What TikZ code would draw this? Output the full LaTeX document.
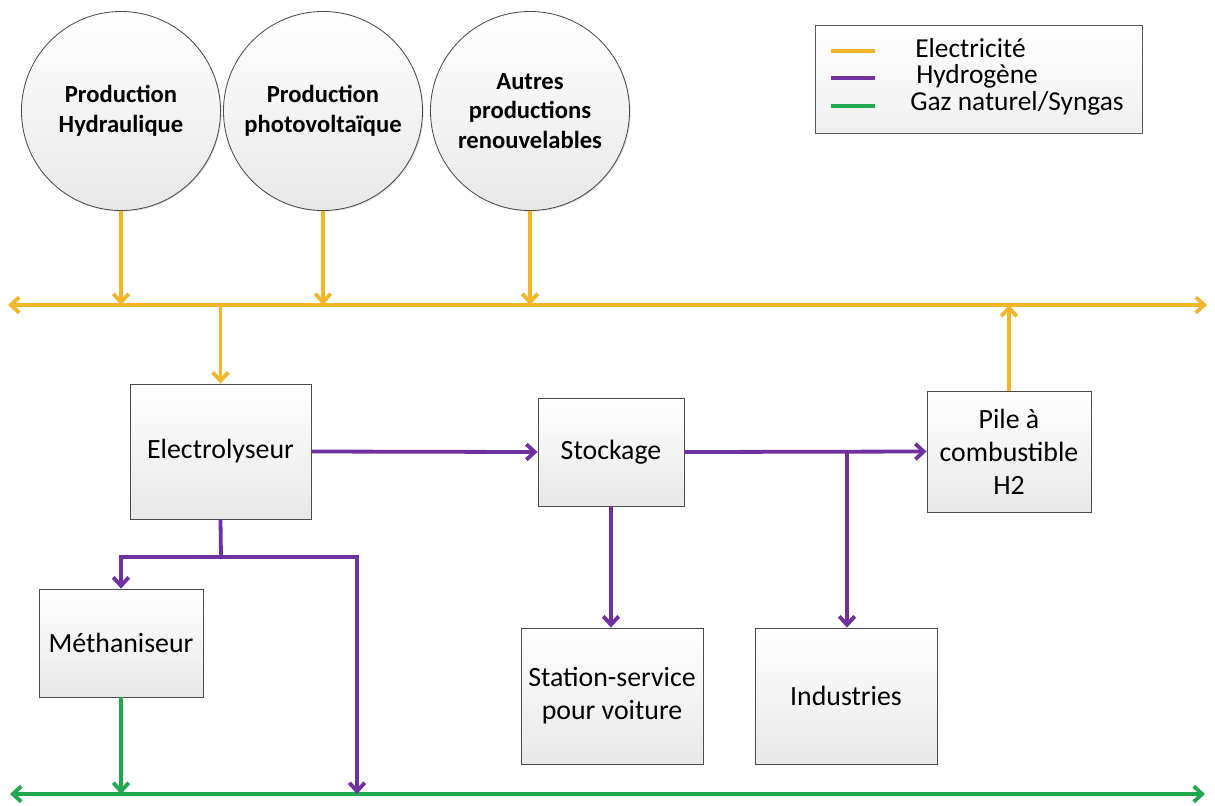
\documentclass[tikz,border=0pt]{standalone}
\usepackage{fontspec}
\setmainfont{Carlito}
\usepackage{xcolor}
\usepackage{tikz}
\usetikzlibrary{arrows.meta}
\usetikzlibrary{shadows}

\definecolor{elecjaune}{HTML}{F2B62B}
\definecolor{hydroviolet}{HTML}{7030A0}
\definecolor{gazvert}{HTML}{22A84F}

\tikzset{
  boite/.style={rectangle, draw=gray!60!black, line width=0.6pt, top color=white, bottom color=gray!18,
    drop shadow={opacity=0.25, shadow xshift=0.8pt, shadow yshift=-0.8pt},
    align=center, inner sep=2pt, font=\fontsize{19.8}{23.5}\selectfont},
  source/.style={circle, draw=gray!60!black, line width=0.6pt, top color=white, bottom color=gray!18,
    drop shadow={opacity=0.25, shadow xshift=0.8pt, shadow yshift=-0.8pt},
    minimum size=4.975cm, align=center, font=\bfseries\fontsize{17.5}{21}\selectfont},
  fleche/.style={line width=2.7pt, -{Straight Barb[length=6pt,width=11pt]}},
  doublefleche/.style={line width=2.7pt, {Straight Barb[length=6pt,width=11pt]}-{Straight Barb[length=6pt,width=11pt]}},
  trait/.style={line width=2.7pt},
  legtrait/.style={line width=2.2pt},
  legtexte/.style={anchor=west, font=\fontsize{19.5}{23}\selectfont, inner sep=0pt},
}

\begin{document}
\begin{tikzpicture}[x=0.025cm, y=-0.025cm]
 \useasboundingbox[fill=white] (0,0) rectangle (1215,805);

 % sources
 \node[source] (hydro) at (121,111) {Production\\Hydraulique};
 \node[source] (photo) at (323,111) {Production\\photovoltaïque};
 \node[source] (autres) at (530,111) {Autres\\productions\\renouvelables};

 % legende
 \node[rectangle, draw=gray!70!black, line width=0.6pt, top color=white, bottom color=gray!12,
   minimum width=8.175cm, minimum height=2.7cm] (leg) at (978.5,79) {};
 \coordinate (l1a) at (831,51); \coordinate (l1b) at (875,51);
 \coordinate (l2a) at (831,78); \coordinate (l2b) at (875,78);
 \coordinate (l3a) at (831,106); \coordinate (l3b) at (875,106);
 \draw[legtrait, elecjaune] (l1a)--(l1b);
 \draw[legtrait, hydroviolet] (l2a)--(l2b);
 \draw[legtrait, gazvert] (l3a)--(l3b);
 \node[legtexte] (tl1) at (915,48) {Electricité};
 \node[legtexte] (tl2) at (916,76) {Hydrogène};
 \node[legtexte] (tl3) at (910,103) {Gaz naturel/Syngas};

 % boites
 \node[boite, minimum width=4.525cm, minimum height=3.375cm] (elec) at (220.5,451.5) {Electrolyseur};
 \node[boite, minimum width=4.1cm, minimum height=2.7cm] (meth) at (121,643) {Méthaniseur};
 \node[boite, minimum width=3.65cm, minimum height=2.7cm] (stock) at (611,452) {Stockage};
 \node[boite, minimum width=4.1cm, minimum height=3.025cm] (pile) at (1009,451.5) {Pile à\\combustible\\H2};
 \node[boite, minimum width=4.55cm, minimum height=3.4cm] (station) at (612,696) {Station-service\\pour voiture};
 \node[boite, minimum width=4.55cm, minimum height=3.4cm] (indus) at (846,696) {Industries};

 % bus electrique
 \coordinate (yg) at (8,305);
 \coordinate (yd) at (1207,305);
 \draw[doublefleche, elecjaune] (yg)--(yd);
 \draw[fleche, elecjaune] (hydro.south)--(hydro.south |- yg);
 \draw[fleche, elecjaune] (photo.south)--(photo.south |- yg);
 \draw[fleche, elecjaune] (autres.south)--(autres.south |- yg);
 \draw[fleche, elecjaune] (elec.north |- yg)--(elec.north);
 \draw[fleche, elecjaune] (pile.north)--(pile.north |- yg);

 % bus gaz
 \coordinate (vg) at (10,794);
 \coordinate (vd) at (1205,794);
 \draw[doublefleche, gazvert] (vg)--(vd);
 \draw[fleche, gazvert] (meth.south)--(meth.south |- vg);

 % hydrogene
 \coordinate (nd) at (221,557);
 \coordinate (br) at (847,452);
 \draw[fleche, hydroviolet] (elec.east)--(stock.west);
 \draw[fleche, hydroviolet] (stock.east)--(pile.west);
 \draw[fleche, hydroviolet] (br)--(indus.north -| br);
 \draw[fleche, hydroviolet] (stock.south)--(station.north -| stock.south);
 \draw[trait, hydroviolet] (elec.south)--(nd);
 \draw[fleche, hydroviolet] (nd)--(meth.north |- nd)--(meth.north);
 \draw[fleche, hydroviolet] (nd)--(357,557)--(357,794);
\end{tikzpicture}
\end{document}
